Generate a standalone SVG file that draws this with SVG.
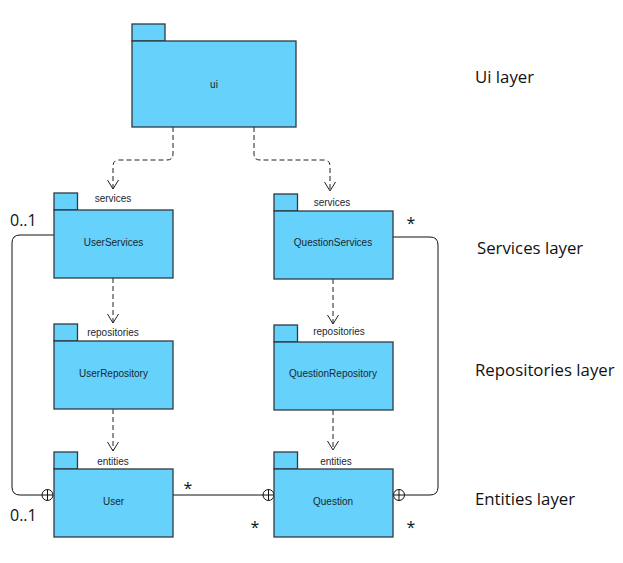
<svg xmlns="http://www.w3.org/2000/svg" width="623" height="563" viewBox="0 0 623 563">
<defs>
<style>
.pkg{fill:#66D2FB;stroke:#2f3a42;stroke-width:1.3}
.pl{font-family:"Liberation Sans",Arial,sans-serif;font-size:10px;fill:#1a2630;text-anchor:middle}
.dep{fill:none;stroke:#222;stroke-width:1;stroke-dasharray:5,3}
.ln{fill:none;stroke:#111;stroke-width:1}
.big{font-family:"Open Sans","Noto Sans",sans-serif;font-size:16.8px;fill:#111}
.mult{font-family:"Open Sans","Noto Sans",sans-serif;font-size:16px;fill:#111}
.circ{fill:#fff;stroke:#111;stroke-width:1}
</style>
<marker id="open" markerWidth="12" markerHeight="12" refX="10" refY="6" orient="auto" markerUnits="userSpaceOnUse">
<path d="M1,0.5 L10,6 L1,11.5" fill="none" stroke="#222" stroke-width="1"/>
</marker>
</defs>
<rect width="623" height="563" fill="#fff"/>

<g id="connectors">
<path class="dep" d="M173,127 V154 Q173,160 167,160 H119 Q113,160 113,166 V189" marker-end="url(#open)"/>
<path class="dep" d="M254,127 V154 Q254,160 260,160 H324 Q330,160 330,166 V191" marker-end="url(#open)"/>
<path class="dep" d="M113,278 V323" marker-end="url(#open)"/>
<path class="dep" d="M333,279 V324" marker-end="url(#open)"/>
<path class="dep" d="M113,409 V451" marker-end="url(#open)"/>
<path class="dep" d="M333,410 V450" marker-end="url(#open)"/>
<path class="ln" d="M54,235 H20 Q12,235 12,243 V487 Q12,495 20,495 H42"/>
<path class="ln" d="M393,237 H430 Q438,237 438,245 V487 Q438,495 430,495 H405"/>
<path class="ln" d="M173,495 H263"/>
<g class="circ">
<circle cx="47.5" cy="495" r="5.5"/>
<circle cx="268.5" cy="495" r="5.5"/>
<circle cx="399" cy="495" r="5.5"/>
</g>
<path class="ln" d="M42,495 H53 M47.5,489.5 V500.5 M263,495 H274 M268.5,489.5 V500.5 M393.5,495 H404.5 M399,489.5 V500.5"/>
<text class="mult" x="10" y="226">0..1</text>
<text class="mult" x="10" y="521">0..1</text>
<text class="mult" x="188" y="494" text-anchor="middle">*</text>
<text class="mult" x="255" y="533" text-anchor="middle">*</text>
<text class="mult" x="411" y="533" text-anchor="middle">*</text>
<text class="mult" x="411" y="229" text-anchor="middle">*</text>
</g>

<g id="ui">
<rect class="pkg" x="132" y="24" width="33" height="17"/>
<rect class="pkg" x="132" y="41" width="164" height="86"/>
<text class="pl" x="214" y="88">ui</text>
</g>

<g id="UserServices">
<rect class="pkg" x="54" y="193" width="23.5" height="17"/>
<rect class="pkg" x="54" y="210" width="119" height="68"/>
<text class="pl" x="113" y="202">services</text>
<text class="pl" x="113.5" y="246">UserServices</text>
</g>

<g id="QuestionServices">
<rect class="pkg" x="274" y="194" width="23.5" height="17"/>
<rect class="pkg" x="274" y="211" width="119" height="68"/>
<text class="pl" x="332" y="206">services</text>
<text class="pl" x="333" y="246">QuestionServices</text>
</g>

<g id="UserRepository">
<rect class="pkg" x="54" y="324" width="23.5" height="17"/>
<rect class="pkg" x="54" y="341" width="119" height="68"/>
<text class="pl" x="113" y="336">repositories</text>
<text class="pl" x="113.5" y="377">UserRepository</text>
</g>

<g id="QuestionRepository">
<rect class="pkg" x="274" y="325" width="23.5" height="17"/>
<rect class="pkg" x="274" y="342" width="119" height="68"/>
<text class="pl" x="339" y="335">repositories</text>
<text class="pl" x="333" y="377">QuestionRepository</text>
</g>

<g id="User">
<rect class="pkg" x="54" y="452" width="23.5" height="17"/>
<rect class="pkg" x="54" y="469" width="119" height="68"/>
<text class="pl" x="113" y="465">entities</text>
<text class="pl" x="113.5" y="505">User</text>
</g>

<g id="Question">
<rect class="pkg" x="274" y="452" width="23.5" height="17"/>
<rect class="pkg" x="274" y="469" width="119" height="68"/>
<text class="pl" x="336" y="465">entities</text>
<text class="pl" x="333" y="505">Question</text>
</g>

<g id="layers">
<text class="big" x="475" y="83">Ui layer</text>
<text class="big" x="477" y="254">Services layer</text>
<text class="big" x="475" y="376">Repositories layer</text>
<text class="big" x="475" y="505">Entities layer</text>
</g>
</svg>
